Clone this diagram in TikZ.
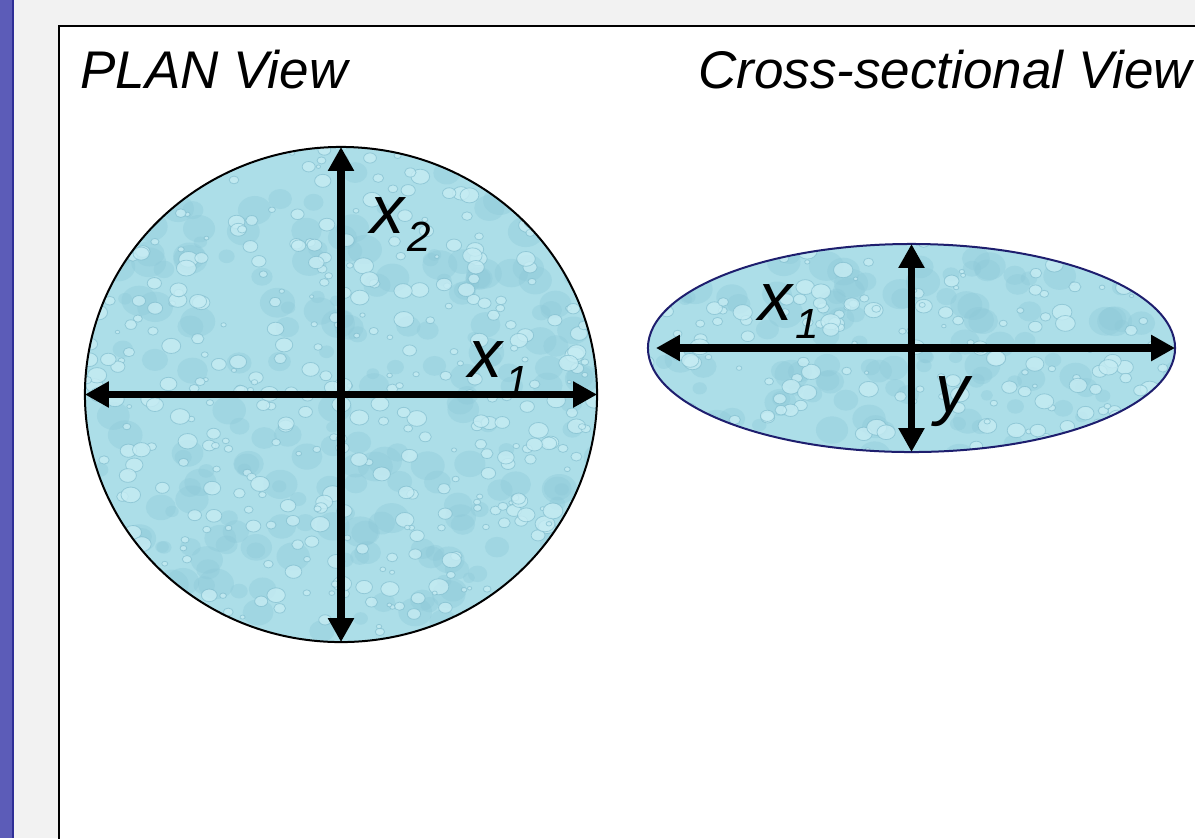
\documentclass[tikz,border=0pt]{standalone}
\usepackage{fontspec}
\setmainfont{Liberation Sans}
\usepackage{tikz}
\usetikzlibrary{arrows.meta,shapes.geometric}
\definecolor{wdSide}{RGB}{92,92,184}
\definecolor{wdSideLine}{RGB}{46,46,150}
\definecolor{wdPage}{RGB}{242,242,242}
\definecolor{wdWater}{RGB}{172,222,232}
\definecolor{wdDrop}{RGB}{198,236,243}
\definecolor{wdDropDark}{RGB}{140,200,216}
\definecolor{wdDropEdge}{RGB}{122,184,202}
\definecolor{wdNavy}{RGB}{30,30,110}
\newcommand{\wdSub}[1]{\kern2pt\raisebox{-13.5pt}{\fontsize{30}{30}\selectfont #1}}
\tikzset{
  wdShape/.style={ellipse, draw=#1, line width=0.05cm, fill=wdWater,
                  inner sep=0pt, outer sep=0pt, wdTexture},
  wdTexture/.style={path picture={
      \begin{scope}[shift={(path picture bounding box.center)}]
        \foreach \k in {1,...,260}{
          \pgfmathsetmacro{\dx}{540*rnd-270}
          \pgfmathsetmacro{\dy}{520*rnd-260}
          \pgfmathsetmacro{\dr}{6+12*rnd}
          \fill[wdDropDark, opacity=0.35] (\dx,\dy) ellipse [x radius=\dr, y radius=0.85*\dr];
        }
        \foreach \k in {1,...,520}{
          \pgfmathsetmacro{\dx}{540*rnd-270}
          \pgfmathsetmacro{\dy}{520*rnd-260}
          \pgfmathsetmacro{\dr}{2+8*rnd}
          \path[wdDropStyle] (\dx,\dy) ellipse [x radius=\dr, y radius=0.8*\dr];
        }
      \end{scope}}},
  wdDropStyle/.style={fill=wdDrop, fill opacity=0.8, draw=wdDropEdge,
                      draw opacity=0.6, line width=0.02cm},
  wdArrow/.style={{Triangle[length=0.6cm,width=0.62cm]}-{Triangle[length=0.6cm,width=0.62cm]},
                  line width=0.19cm, draw=black},
  wdTitle/.style={anchor=base west, inner sep=0pt,
                  font=\fontsize{37.7}{44}\selectfont\itshape},
  wdLabel/.style={anchor=base west, inner sep=0pt,
                  font=\fontsize{48.4}{56}\selectfont\itshape}
}
\pgfmathsetseed{4711}

\begin{document}
\begin{tikzpicture}[x=0.025cm,y=-0.025cm]
  \clip (0,0) rectangle (1195,838);
  \fill[wdPage] (0,0) rectangle (1195,838);
  \fill[wdSide] (0,0) rectangle (12,838);
  \fill[wdSideLine] (12,0) rectangle (14,838);
  \draw[line width=0.06cm, fill=white] (59,26) rectangle (1240,880);

  \node[wdShape=black, minimum width=12.8cm, minimum height=12.375cm] (plan) at (341,394.5) {};
  \node[wdShape=wdNavy, minimum width=13.175cm, minimum height=5.2cm] (cross) at (911.5,348) {};

  \draw[wdArrow] (plan.west) -- (plan.east);
  \draw[wdArrow] (plan.north) -- (plan.south);
  \draw[wdArrow] ([xshift=0.2cm]cross.west) -- (cross.east);
  \draw[wdArrow] (cross.north) -- (cross.south);

  \node[wdTitle] (planTitle) at (80,88) {PLAN View};
  \node[wdTitle] (crossTitle) at (698,88) {Cross-sectional View};
  \node[wdLabel] (planX2) at (370,233) {x\wdSub{2}};
  \node[wdLabel] (planX1) at (468,377) {x\wdSub{1}};
  \node[wdLabel] (crossX1) at (758,320) {x\wdSub{1}};
  \node[wdLabel] (crossY) at (935,412) {y};
\end{tikzpicture}
\end{document}
